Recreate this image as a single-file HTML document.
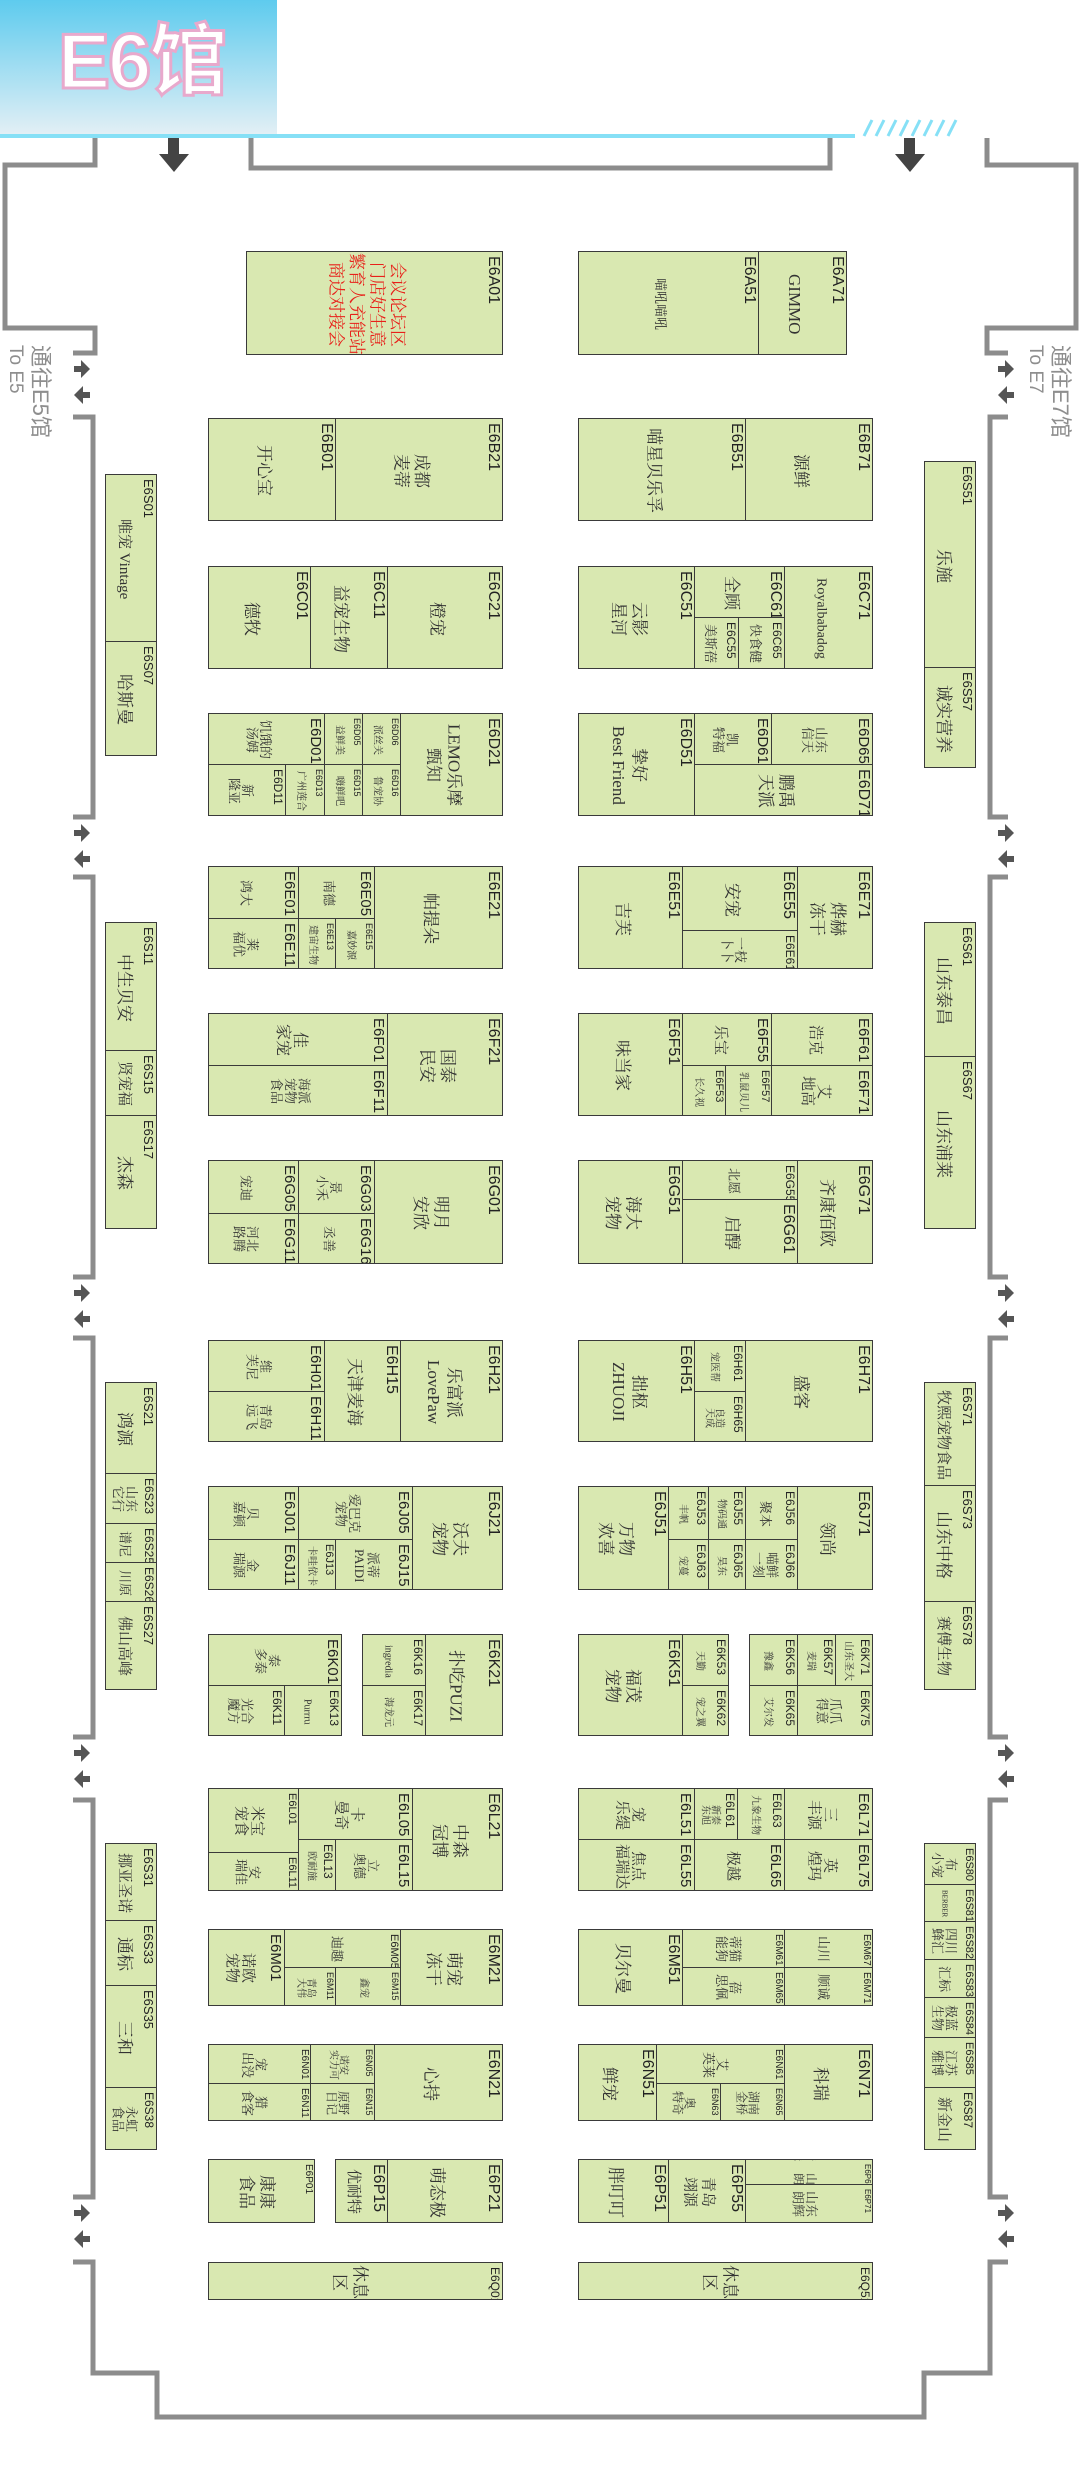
<!DOCTYPE html>
<html><head><meta charset="utf-8">
<style>
html,body{margin:0;padding:0;background:#fff}
#w{position:relative;width:1080px;height:2480px;overflow:hidden;background:#fff}
.c{position:absolute;box-sizing:border-box;background:#d9e8b1;border:1px solid #3a3a3a;writing-mode:vertical-rl;text-orientation:sideways;display:flex;flex-direction:column;padding:4px 1px 2px 0;overflow:hidden}
.c i{font-style:normal;font:16px/1 "Liberation Sans",sans-serif;color:#222;align-self:flex-start;white-space:nowrap}
.c b{flex:1;display:flex;align-items:center;justify-content:center;font:17px/1.2 "Liberation Serif","Noto Serif CJK SC",serif;font-weight:normal;color:#333;text-align:center;white-space:nowrap}
.s i{font-size:12px}.s b{font-size:13px;line-height:1.05}
.t i{font-size:9px}.t b{font-size:10px;line-height:1}
.red b{color:#e8201a}
.lab{position:absolute;writing-mode:vertical-rl;text-orientation:sideways;font:22px/1.05 "Liberation Sans","Noto Sans CJK SC",sans-serif;color:#8e8e8e}
.lab span{font-size:19px}
#hdr{position:absolute;left:0;top:0;width:277px;height:134px;background:linear-gradient(#5ecbee,#e2eff5)}
#ttl{position:absolute;left:58px;top:22px;font:bold 78px/1 "Liberation Sans","Noto Sans CJK SC",sans-serif;color:#fff;-webkit-text-stroke:3px #e8a9cc;letter-spacing:-2px}
</style></head><body><div id="w">
<div id="hdr"><div id="ttl">E6馆</div></div>
<div style="position:absolute;left:0;top:134px;width:855px;height:4px;background:#86e0f6"></div>
<svg style="position:absolute;left:0;top:0" width="1080" height="2480">
<g stroke="#86e0f6" stroke-width="3"><line x1="864" y1="136" x2="872" y2="120"/><line x1="876" y1="136" x2="884" y2="120"/><line x1="888" y1="136" x2="896" y2="120"/><line x1="900" y1="136" x2="908" y2="120"/><line x1="912" y1="136" x2="920" y2="120"/><line x1="924" y1="136" x2="932" y2="120"/><line x1="936" y1="136" x2="944" y2="120"/><line x1="948" y1="136" x2="956" y2="120"/></g>
<g fill="none" stroke="#8c8c8c" stroke-width="5">
<path d="M95 138V165H5V328H95V353H73"/>
<path d="M73 417H93V817H73M73 877H93V1277H73M73 1338H93V1737H73M73 1800H93V2197H73M73 2262H93V2373H157V2417H924V2373H990V2262H1008"/>
<path d="M1008 2197H990V1800H1008M1008 1737H990V1338H1008M1008 1277H990V877H1008M1008 817H990V417H1008"/>
<path d="M987 138V165H1076V328H987V353H1008"/>
<path d="M251 138V168H830V138"/>
</g>
<g fill="#444">
<path d="M168 138h11v16h10l-15 18l-15-18h9z"/>
<path d="M904 138h11v16h10l-15 18l-15-18h9z"/>
</g>
<g fill="#555">
<path id="ar" d="M74 366h7v-6l9 9l-9 9v-6h-7z"/>
<path id="al" d="M90 392h-7v-6l-9 9l9 9v-6h7z"/>
<use href="#ar" y="464"/><use href="#al" y="464"/>
<use href="#ar" y="924"/><use href="#al" y="924"/>
<use href="#ar" y="1384"/><use href="#al" y="1384"/>
<use href="#ar" y="1844"/><use href="#al" y="1844"/>
<g transform="translate(924,0)"><use href="#ar"/><use href="#al"/>
<use href="#ar" y="464"/><use href="#al" y="464"/>
<use href="#ar" y="924"/><use href="#al" y="924"/>
<use href="#ar" y="1384"/><use href="#al" y="1384"/>
<use href="#ar" y="1844"/><use href="#al" y="1844"/></g>
</g>
</svg>
<div class="lab" style="left:5px;top:345px">通往E5馆<br><span>To E5</span></div>
<div class="lab" style="left:1025px;top:345px">通往E7馆<br><span>To E7</span></div>

<!-- Row A -->
<div class="c red" style="left:246px;top:251px;width:257px;height:104px"><i>E6A01</i><b><span>会议论坛区<br>门店好生意<br>繁育人充能站<br>商达对接会</span></b></div>
<div class="c s" style="left:578px;top:251px;width:181px;height:104px"><i style="font-size:16px">E6A51</i><b><span>喵吼喵吼</span></b></div>
<div class="c" style="left:758px;top:251px;width:89px;height:104px"><i>E6A71</i><b><span>GIMMO</span></b></div>
<!-- Row B -->
<div class="c" style="left:208px;top:418px;width:128px;height:103px"><i>E6B01</i><b><span>开心宝</span></b></div>
<div class="c" style="left:335px;top:418px;width:168px;height:103px"><i>E6B21</i><b><span>成都<br>麦蒂</span></b></div>
<div class="c" style="left:578px;top:418px;width:168px;height:103px"><i>E6B51</i><b><span>喵星贝乐孚</span></b></div>
<div class="c" style="left:745px;top:418px;width:128px;height:103px"><i>E6B71</i><b><span>源鲜</span></b></div>
<!-- Row C -->
<div class="c" style="left:208px;top:566px;width:103px;height:103px"><i>E6C01</i><b><span>德牧</span></b></div>
<div class="c" style="left:310px;top:566px;width:78px;height:103px"><i>E6C11</i><b><span>益宠生物</span></b></div>
<div class="c" style="left:387px;top:566px;width:116px;height:103px"><i>E6C21</i><b><span>橙宠</span></b></div>
<div class="c" style="left:578px;top:566px;width:117px;height:103px"><i>E6C51</i><b><span>云影<br>星河</span></b></div>
<div class="c" style="left:694px;top:566px;width:91px;height:52px"><i>E6C61</i><b><span>全顾</span></b></div>
<div class="c s" style="left:694px;top:617px;width:45px;height:52px"><i>E6C55</i><b><span>美斯蓓</span></b></div>
<div class="c s" style="left:738px;top:617px;width:47px;height:52px"><i>E6C65</i><b><span>快食健</span></b></div>
<div class="c" style="left:784px;top:566px;width:89px;height:103px"><i>E6C71</i><b style="font-size:14px"><span>Royalbabadog</span></b></div>
<!-- Row D -->
<div class="c s" style="left:208px;top:713px;width:117px;height:52px"><i style="font-size:15px">E6D01</i><b><span>饥饿的<br>汤姆</span></b></div>
<div class="c t" style="left:324px;top:713px;width:39px;height:52px"><i>E6D05</i><b><span>益鲜美</span></b></div>
<div class="c t" style="left:362px;top:713px;width:39px;height:52px"><i>E6D06</i><b><span>派丝关</span></b></div>
<div class="c s" style="left:208px;top:764px;width:78px;height:52px"><i>E6D11</i><b><span>新<br>隆亚</span></b></div>
<div class="c t" style="left:285px;top:764px;width:40px;height:52px"><i>E6D13</i><b><span>广州莲合</span></b></div>
<div class="c t" style="left:324px;top:764px;width:39px;height:52px"><i>E6D15</i><b><span>嗨鲜吧</span></b></div>
<div class="c t" style="left:362px;top:764px;width:39px;height:52px"><i>E6D16</i><b><span>鲁宠协</span></b></div>
<div class="c" style="left:400px;top:713px;width:103px;height:103px"><i>E6D21</i><b><span>LEMO乐摩<br>甄知</span></b></div>
<div class="c" style="left:578px;top:713px;width:117px;height:103px"><i>E6D51</i><b><span>挚好<br>Best Friend</span></b></div>
<div class="c s" style="left:694px;top:713px;width:78px;height:52px"><i style="font-size:15px">E6D61</i><b><span>凯<br>特福</span></b></div>
<div class="c s" style="left:771px;top:713px;width:102px;height:52px"><i style="font-size:15px">E6D65</i><b><span>山东<br>信天</span></b></div>
<div class="c" style="left:694px;top:764px;width:179px;height:52px"><i>E6D71</i><b><span>鹏禹<br>天派</span></b></div>
<!-- Row E -->
<div class="c s" style="left:208px;top:866px;width:91px;height:53px"><i style="font-size:15px">E6E01</i><b><span>鸿大</span></b></div>
<div class="c s" style="left:208px;top:918px;width:91px;height:51px"><i style="font-size:15px">E6E11</i><b><span>莱<br>福优</span></b></div>
<div class="c s" style="left:298px;top:866px;width:77px;height:53px"><i style="font-size:15px">E6E05</i><b><span>南德</span></b></div>
<div class="c t" style="left:298px;top:918px;width:38px;height:51px"><i>E6E13</i><b><span>建宙生物</span></b></div>
<div class="c t" style="left:335px;top:918px;width:40px;height:51px"><i>E6E15</i><b><span>嘉妙源</span></b></div>
<div class="c" style="left:374px;top:866px;width:129px;height:103px"><i>E6E21</i><b><span>帕提朵</span></b></div>
<div class="c" style="left:578px;top:866px;width:105px;height:103px"><i>E6E51</i><b><span>吉芙</span></b></div>
<div class="c" style="left:682px;top:866px;width:116px;height:65px"><i>E6E55</i><b><span>安宠</span></b></div>
<div class="c s" style="left:682px;top:930px;width:116px;height:39px"><i>E6E61</i><b><span>一枝<br>卜卜</span></b></div>
<div class="c" style="left:797px;top:866px;width:76px;height:103px"><i>E6E71</i><b><span>烨赫<br>冻干</span></b></div>
<!-- Row F -->
<div class="c s" style="left:208px;top:1013px;width:180px;height:53px"><i style="font-size:15px">E6F01</i><b style="font-size:16px"><span>佳<br>家宠</span></b></div>
<div class="c s" style="left:208px;top:1065px;width:180px;height:51px"><i style="font-size:15px">E6F11</i><b><span>海派<br>宠物<br>食品</span></b></div>
<div class="c" style="left:387px;top:1013px;width:116px;height:103px"><i>E6F21</i><b><span>国泰<br>民安</span></b></div>
<div class="c" style="left:578px;top:1013px;width:105px;height:103px"><i>E6F51</i><b><span>味当家</span></b></div>
<div class="c s" style="left:682px;top:1013px;width:90px;height:53px"><i style="font-size:15px">E6F55</i><b style="font-size:15px"><span>乐宝</span></b></div>
<div class="c t" style="left:682px;top:1065px;width:44px;height:51px"><i style="font-size:11px">E6F53</i><b><span>长久视</span></b></div>
<div class="c t" style="left:725px;top:1065px;width:47px;height:51px"><i style="font-size:11px">E6F57</i><b><span>乳鼠贝儿</span></b></div>
<div class="c s" style="left:771px;top:1013px;width:102px;height:53px"><i style="font-size:15px">E6F61</i><b style="font-size:15px"><span>浩克</span></b></div>
<div class="c s" style="left:771px;top:1065px;width:102px;height:51px"><i style="font-size:15px">E6F71</i><b style="font-size:15px"><span>艾<br>地高</span></b></div>
<!-- Row G -->
<div class="c s" style="left:208px;top:1160px;width:91px;height:54px"><i style="font-size:15px">E6G05</i><b><span>宠迪</span></b></div>
<div class="c s" style="left:208px;top:1213px;width:91px;height:51px"><i style="font-size:15px">E6G11</i><b><span>河北<br>路腾</span></b></div>
<div class="c s" style="left:298px;top:1160px;width:77px;height:54px"><i style="font-size:15px">E6G03</i><b><span>景<br>小禾</span></b></div>
<div class="c s" style="left:298px;top:1213px;width:77px;height:51px"><i style="font-size:15px">E6G16</i><b><span>丞善</span></b></div>
<div class="c" style="left:374px;top:1160px;width:129px;height:104px"><i>E6G01</i><b><span>明月<br>安欣</span></b></div>
<div class="c" style="left:578px;top:1160px;width:105px;height:104px"><i>E6G51</i><b><span>海大<br>宠物</span></b></div>
<div class="c s" style="left:682px;top:1160px;width:116px;height:40px"><i>E6G55</i><b><span>北愿</span></b></div>
<div class="c" style="left:682px;top:1199px;width:116px;height:65px"><i>E6G61</i><b><span>启醇</span></b></div>
<div class="c" style="left:797px;top:1160px;width:76px;height:104px"><i>E6G71</i><b><span>齐康佰欧</span></b></div>
<!-- Row H -->
<div class="c s" style="left:208px;top:1340px;width:117px;height:52px"><i style="font-size:15px">E6H01</i><b><span>维<br>芙尼</span></b></div>
<div class="c s" style="left:208px;top:1391px;width:117px;height:51px"><i style="font-size:15px">E6H11</i><b><span>青岛<br>远飞</span></b></div>
<div class="c" style="left:324px;top:1340px;width:77px;height:102px"><i>E6H15</i><b><span>天津麦海</span></b></div>
<div class="c" style="left:400px;top:1340px;width:103px;height:102px"><i>E6H21</i><b><span>乐富派<br>LovePaw</span></b></div>
<div class="c" style="left:578px;top:1340px;width:117px;height:102px"><i>E6H51</i><b><span>拙枢<br>ZHUOJI</span></b></div>
<div class="c t" style="left:694px;top:1340px;width:52px;height:52px"><i style="font-size:12px">E6H61</i><b><span>宠医帮</span></b></div>
<div class="c t" style="left:694px;top:1391px;width:52px;height:51px"><i style="font-size:12px">E6H65</i><b><span>良造<br>天成</span></b></div>
<div class="c" style="left:745px;top:1340px;width:128px;height:102px"><i>E6H71</i><b><span>盛客</span></b></div>
<!-- Row J -->
<div class="c s" style="left:208px;top:1486px;width:91px;height:54px"><i style="font-size:15px">E6J01</i><b><span>贝<br>嘉顿</span></b></div>
<div class="c s" style="left:208px;top:1539px;width:91px;height:51px"><i style="font-size:15px">E6J11</i><b><span>金<br>瑞源</span></b></div>
<div class="c s" style="left:298px;top:1486px;width:115px;height:54px"><i style="font-size:15px">E6J05</i><b><span>爱巴克<br>宠物</span></b></div>
<div class="c t" style="left:298px;top:1539px;width:38px;height:51px"><i style="font-size:11px">E6J13</i><b><span>卡哇依卡</span></b></div>
<div class="c s" style="left:335px;top:1539px;width:78px;height:51px"><i style="font-size:15px">E6J15</i><b><span>派蒂<br>PAIDI</span></b></div>
<div class="c" style="left:412px;top:1486px;width:91px;height:104px"><i>E6J21</i><b><span>沃夫<br>宠物</span></b></div>
<div class="c" style="left:578px;top:1486px;width:91px;height:104px"><i>E6J51</i><b><span>万物<br>欢喜</span></b></div>
<div class="c t" style="left:668px;top:1486px;width:41px;height:54px"><i style="font-size:12px">E6J53</i><b><span>丰帆</span></b></div>
<div class="c t" style="left:708px;top:1486px;width:38px;height:54px"><i style="font-size:12px">E6J55</i><b><span>物码通</span></b></div>
<div class="c s" style="left:745px;top:1486px;width:53px;height:54px"><i>E6J56</i><b><span>聚本</span></b></div>
<div class="c t" style="left:668px;top:1539px;width:41px;height:51px"><i style="font-size:12px">E6J63</i><b><span>宠蔓</span></b></div>
<div class="c t" style="left:708px;top:1539px;width:38px;height:51px"><i style="font-size:12px">E6J65</i><b><span>昊东</span></b></div>
<div class="c s" style="left:745px;top:1539px;width:53px;height:51px"><i>E6J66</i><b><span>喵鲜<br>一刻</span></b></div>
<div class="c" style="left:797px;top:1486px;width:76px;height:104px"><i>E6J71</i><b><span>领尚</span></b></div>
<!-- Row K -->
<div class="c s" style="left:208px;top:1634px;width:134px;height:52px"><i style="font-size:15px">E6K01</i><b><span>泰<br>多泰</span></b></div>
<div class="c s" style="left:208px;top:1685px;width:77px;height:51px"><i>E6K11</i><b><span>光合<br>魔方</span></b></div>
<div class="c t" style="left:284px;top:1685px;width:58px;height:51px"><i style="font-size:12px">E6K13</i><b><span>Purrru</span></b></div>
<div class="c t" style="left:362px;top:1634px;width:64px;height:52px"><i style="font-size:12px">E6K16</i><b><span>ingredia</span></b></div>
<div class="c t" style="left:362px;top:1685px;width:64px;height:51px"><i style="font-size:12px">E6K17</i><b><span>海龙元</span></b></div>
<div class="c" style="left:425px;top:1634px;width:78px;height:102px"><i>E6K21</i><b><span>扑吃PUZI</span></b></div>
<div class="c" style="left:578px;top:1634px;width:105px;height:102px"><i>E6K51</i><b><span>福茂<br>宠物</span></b></div>
<div class="c t" style="left:682px;top:1634px;width:47px;height:52px"><i style="font-size:12px">E6K53</i><b><span>天勤</span></b></div>
<div class="c t" style="left:682px;top:1685px;width:47px;height:51px"><i style="font-size:12px">E6K62</i><b><span>宠之翼</span></b></div>
<div class="c t" style="left:749px;top:1634px;width:49px;height:52px"><i style="font-size:12px">E6K56</i><b><span>豫鑫</span></b></div>
<div class="c t" style="left:797px;top:1634px;width:39px;height:52px"><i style="font-size:12px">E6K57</i><b><span>麦瑞</span></b></div>
<div class="c t" style="left:835px;top:1634px;width:38px;height:52px"><i style="font-size:12px">E6K71</i><b><span>山东圣大</span></b></div>
<div class="c t" style="left:749px;top:1685px;width:49px;height:51px"><i style="font-size:12px">E6K65</i><b><span>艾尔发</span></b></div>
<div class="c s" style="left:797px;top:1685px;width:76px;height:51px"><i>E6K75</i><b><span>爪爪<br>得意</span></b></div>
<!-- Row L -->
<div class="c s" style="left:208px;top:1788px;width:91px;height:65px"><i style="font-size:11px">E6L01</i><b style="font-size:15px"><span>米宝<br>宠食</span></b></div>
<div class="c s" style="left:208px;top:1852px;width:91px;height:39px"><i style="font-size:11px">E6L11</i><b><span>安<br>瑞佳</span></b></div>
<div class="c s" style="left:298px;top:1788px;width:115px;height:52px"><i style="font-size:15px">E6L05</i><b style="font-size:15px"><span>卡<br>曼奇</span></b></div>
<div class="c t" style="left:298px;top:1839px;width:38px;height:52px"><i style="font-size:12px">E6L13</i><b><span>欧耐施</span></b></div>
<div class="c s" style="left:335px;top:1839px;width:78px;height:52px"><i style="font-size:15px">E6L15</i><b><span>立<br>奥德</span></b></div>
<div class="c" style="left:412px;top:1788px;width:91px;height:103px"><i>E6L21</i><b><span>中森<br>冠博</span></b></div>
<div class="c s" style="left:578px;top:1788px;width:117px;height:52px"><i style="font-size:15px">E6L51</i><b style="font-size:15px"><span>宠<br>乐缇</span></b></div>
<div class="c s" style="left:578px;top:1839px;width:117px;height:52px"><i style="font-size:15px">E6L55</i><b style="font-size:15px"><span>焦点<br>福瑞达</span></b></div>
<div class="c t" style="left:694px;top:1788px;width:44px;height:52px"><i style="font-size:12px">E6L61</i><b><span>新泰<br>东旭</span></b></div>
<div class="c t" style="left:737px;top:1788px;width:48px;height:52px"><i style="font-size:12px">E6L63</i><b><span>九象生物</span></b></div>
<div class="c s" style="left:694px;top:1839px;width:91px;height:52px"><i style="font-size:15px">E6L65</i><b style="font-size:15px"><span>极越</span></b></div>
<div class="c s" style="left:784px;top:1788px;width:89px;height:52px"><i style="font-size:15px">E6L71</i><b style="font-size:15px"><span>三<br>丰源</span></b></div>
<div class="c s" style="left:784px;top:1839px;width:89px;height:52px"><i style="font-size:15px">E6L75</i><b style="font-size:15px"><span>英<br>煌玛</span></b></div>
<!-- Row M -->
<div class="c s" style="left:208px;top:1929px;width:77px;height:77px"><i style="font-size:15px">E6M01</i><b style="font-size:15px"><span>诺欧<br>宠物</span></b></div>
<div class="c s" style="left:284px;top:1929px;width:117px;height:39px"><i style="font-size:11px">E6M05</i><b><span>迪趣</span></b></div>
<div class="c t" style="left:284px;top:1967px;width:52px;height:39px"><i>E6M11</i><b><span>青岛<br>大伟</span></b></div>
<div class="c t" style="left:335px;top:1967px;width:66px;height:39px"><i>E6M15</i><b><span>鑫宠</span></b></div>
<div class="c" style="left:400px;top:1929px;width:103px;height:77px"><i>E6M21</i><b><span>萌宠<br>冻干</span></b></div>
<div class="c" style="left:578px;top:1929px;width:105px;height:77px"><i>E6M51</i><b><span>贝尔曼</span></b></div>
<div class="c s" style="left:682px;top:1929px;width:103px;height:39px"><i style="font-size:10px">E6M61</i><b><span>蒂猫<br>能狗</span></b></div>
<div class="c s" style="left:682px;top:1967px;width:103px;height:39px"><i style="font-size:10px">E6M65</i><b><span>蓓<br>思佩</span></b></div>
<div class="c s" style="left:784px;top:1929px;width:89px;height:39px"><i style="font-size:10px">E6M67</i><b><span>山川</span></b></div>
<div class="c s" style="left:784px;top:1967px;width:89px;height:39px"><i style="font-size:10px">E6M71</i><b><span>顺诚</span></b></div>
<!-- Row N -->
<div class="c s" style="left:208px;top:2044px;width:103px;height:40px"><i style="font-size:10px">E6N01</i><b><span>宠<br>出没</span></b></div>
<div class="c s" style="left:208px;top:2083px;width:103px;height:38px"><i style="font-size:10px">E6N11</i><b><span>猎<br>食客</span></b></div>
<div class="c t" style="left:310px;top:2044px;width:65px;height:40px"><i>E6N05</i><b><span>诺安<br>实力可</span></b></div>
<div class="c t" style="left:310px;top:2083px;width:65px;height:38px"><i>E6N15</i><b style="font-size:12px"><span>原野<br>日记</span></b></div>
<div class="c" style="left:374px;top:2044px;width:129px;height:77px"><i>E6N21</i><b><span>心持</span></b></div>
<div class="c" style="left:578px;top:2044px;width:79px;height:77px"><i>E6N51</i><b><span>鲜宠</span></b></div>
<div class="c s" style="left:656px;top:2044px;width:129px;height:40px"><i style="font-size:10px">E6N61</i><b><span>艾<br>英莱</span></b></div>
<div class="c t" style="left:656px;top:2083px;width:65px;height:38px"><i>E6N63</i><b style="font-size:12px"><span>奥<br>特奇</span></b></div>
<div class="c t" style="left:720px;top:2083px;width:65px;height:38px"><i>E6N65</i><b style="font-size:12px"><span>湖南<br>金桥</span></b></div>
<div class="c" style="left:784px;top:2044px;width:89px;height:77px"><i>E6N71</i><b><span>科瑞</span></b></div>
<!-- Row P -->
<div class="c" style="left:208px;top:2159px;width:107px;height:64px"><i style="font-size:10px">E6P01</i><b><span>康康<br>食品</span></b></div>
<div class="c" style="left:335px;top:2159px;width:53px;height:64px"><i>E6P15</i><b style="font-size:15px"><span>优耐特</span></b></div>
<div class="c" style="left:387px;top:2159px;width:116px;height:64px"><i>E6P21</i><b><span>萌态极</span></b></div>
<div class="c" style="left:578px;top:2159px;width:91px;height:64px"><i>E6P51</i><b><span>胖叮叮</span></b></div>
<div class="c" style="left:668px;top:2159px;width:78px;height:64px"><i>E6P55</i><b style="font-size:15px"><span>青岛<br>翊源</span></b></div>
<div class="c s" style="left:745px;top:2159px;width:128px;height:26px"><i style="font-size:8px">E6P61</i><b style="font-size:12px"><span>猎　山东<br>味　朗辉</span></b></div>
<div class="c s" style="left:745px;top:2184px;width:128px;height:39px"><i style="font-size:8px">E6P71</i><b><span>山东<br>朗辉</span></b></div>
<!-- Row Q -->
<div class="c" style="left:208px;top:2262px;width:295px;height:38px"><i style="font-size:12px">E6Q01</i><b><span>休息<br>区</span></b></div>
<div class="c" style="left:578px;top:2262px;width:295px;height:38px"><i style="font-size:12px">E6Q51</i><b><span>休息<br>区</span></b></div>

<!-- Left kiosks -->
<div class="c" style="left:105px;top:474px;width:52px;height:168px"><i style="font-size:13px">E6S01</i><b style="font-size:15px"><span>唯宠 Vintage</span></b></div>
<div class="c" style="left:105px;top:641px;width:52px;height:115px"><i style="font-size:13px">E6S07</i><b><span>哈斯曼</span></b></div>
<div class="c" style="left:105px;top:922px;width:52px;height:129px"><i style="font-size:13px">E6S11</i><b><span>中生贝安</span></b></div>
<div class="c" style="left:105px;top:1050px;width:52px;height:66px"><i style="font-size:13px">E6S15</i><b style="font-size:15px"><span>贤宠福</span></b></div>
<div class="c" style="left:105px;top:1115px;width:52px;height:114px"><i style="font-size:13px">E6S17</i><b><span>杰森</span></b></div>
<div class="c" style="left:105px;top:1382px;width:52px;height:92px"><i style="font-size:13px">E6S21</i><b><span>鸿源</span></b></div>
<div class="c s" style="left:105px;top:1473px;width:52px;height:51px"><i>E6S23</i><b><span>山东<br>它行</span></b></div>
<div class="c s" style="left:105px;top:1523px;width:52px;height:40px"><i>E6S25</i><b><span>谱尼</span></b></div>
<div class="c s" style="left:105px;top:1562px;width:52px;height:40px"><i>E6S26</i><b><span>川原</span></b></div>
<div class="c" style="left:105px;top:1601px;width:52px;height:89px"><i style="font-size:13px">E6S27</i><b style="font-size:15px"><span>佛山高峰</span></b></div>
<div class="c" style="left:105px;top:1843px;width:52px;height:78px"><i style="font-size:13px">E6S31</i><b style="font-size:15px"><span>挪亚圣诺</span></b></div>
<div class="c" style="left:105px;top:1920px;width:52px;height:66px"><i style="font-size:13px">E6S33</i><b><span>通标</span></b></div>
<div class="c" style="left:105px;top:1985px;width:52px;height:103px"><i style="font-size:13px">E6S35</i><b><span>三和</span></b></div>
<div class="c s" style="left:105px;top:2087px;width:52px;height:63px"><i>E6S38</i><b><span>永虹<br>食品</span></b></div>
<!-- Right kiosks -->
<div class="c" style="left:924px;top:461px;width:52px;height:207px"><i style="font-size:13px">E6S51</i><b><span>乐施</span></b></div>
<div class="c" style="left:924px;top:667px;width:52px;height:101px"><i style="font-size:13px">E6S57</i><b><span>诚实营养</span></b></div>
<div class="c" style="left:924px;top:922px;width:52px;height:135px"><i style="font-size:13px">E6S61</i><b><span>山东泰昌</span></b></div>
<div class="c" style="left:924px;top:1056px;width:52px;height:173px"><i style="font-size:13px">E6S67</i><b><span>山东浦莱</span></b></div>
<div class="c" style="left:924px;top:1382px;width:52px;height:104px"><i style="font-size:13px">E6S71</i><b style="font-size:15px"><span>牧熙宠物食品</span></b></div>
<div class="c" style="left:924px;top:1485px;width:52px;height:117px"><i style="font-size:13px">E6S73</i><b><span>山东中格</span></b></div>
<div class="c" style="left:924px;top:1601px;width:52px;height:89px"><i style="font-size:13px">E6S78</i><b style="font-size:15px"><span>赛傅生物</span></b></div>
<div class="c s" style="left:924px;top:1843px;width:52px;height:42px"><i style="font-size:11px">E6S80</i><b><span>布<br>小宠</span></b></div>
<div class="c t" style="left:924px;top:1884px;width:52px;height:38px"><i style="font-size:11px">E6S81</i><b style="font-size:7px"><span>BERBER</span></b></div>
<div class="c s" style="left:924px;top:1921px;width:52px;height:39px"><i style="font-size:11px">E6S82</i><b><span>四川<br>蜂汇</span></b></div>
<div class="c s" style="left:924px;top:1959px;width:52px;height:39px"><i style="font-size:11px">E6S83</i><b><span>汇标</span></b></div>
<div class="c s" style="left:924px;top:1997px;width:52px;height:41px"><i style="font-size:11px">E6S84</i><b><span>极蓝<br>生物</span></b></div>
<div class="c s" style="left:924px;top:2037px;width:52px;height:51px"><i style="font-size:11px">E6S85</i><b><span>江苏<br>雅博</span></b></div>
<div class="c" style="left:924px;top:2087px;width:52px;height:63px"><i style="font-size:12px">E6S87</i><b style="font-size:15px"><span>新金山</span></b></div>
</div></body></html>
